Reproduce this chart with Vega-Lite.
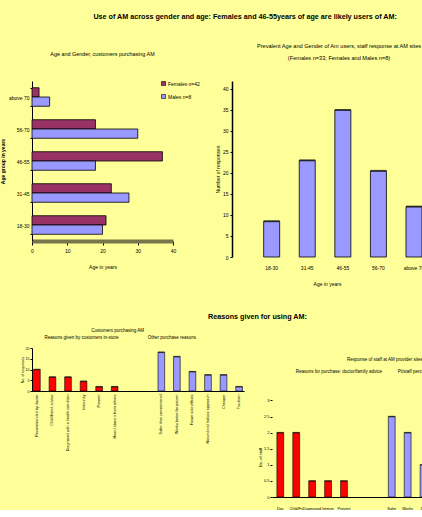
{
  "$schema": "https://vega.github.io/schema/vega-lite/v6.json",
  "background": "#FFFF99",
  "padding": {"top": 12, "left": 0, "right": 0, "bottom": 0},
  "config": {
    "font": "Liberation Sans, sans-serif",
    "view": {"stroke": null},
    "axis": {"grid": false, "labelColor": "#000", "titleColor": "#000", "tickColor": "#000", "domainColor": "#000", "labelFontSize": 5, "titleFontSize": 5, "titleFontWeight": "normal", "labelFlush": false, "labelOverlap": false},
    "title": {"color": "#000"}
  },
  "title": {"text": "Use of AM across gender and age: Females and 46-55years of age are likely users of AM:", "anchor": "start", "dx": 93, "fontSize": 7.2, "fontWeight": "bold", "offset": 24},
  "columns": 1,
  "align": "none",
  "spacing": 27,
  "resolve": {"scale": {"color": "independent"}, "legend": {"color": "independent"}},
  "concat": [
    {
      "spacing": 15,
      "resolve": {"scale": {"color": "independent"}, "legend": {"color": "independent"}},
      "hconcat": [
        {
          "width": 141,
          "height": 160,
          "title": {"text": "Age and Gender, customers purchasing AM", "fontSize": 5.4, "fontWeight": "normal", "frame": "group", "offset": 22},
          "data": {"values": [
            {"age": "above 70", "gender": "Females n=42", "customers": 2},
            {"age": "above 70", "gender": "Males n=8", "customers": 5},
            {"age": "56-70", "gender": "Females n=42", "customers": 18},
            {"age": "56-70", "gender": "Males n=8", "customers": 30},
            {"age": "46-55", "gender": "Females n=42", "customers": 37},
            {"age": "46-55", "gender": "Males n=8", "customers": 18},
            {"age": "31-45", "gender": "Females n=42", "customers": 22.5},
            {"age": "31-45", "gender": "Males n=8", "customers": 27.5},
            {"age": "18-30", "gender": "Females n=42", "customers": 21},
            {"age": "18-30", "gender": "Males n=8", "customers": 20}
          ]},
          "mark": {"type": "bar", "stroke": "#000", "strokeWidth": 0.8},
          "encoding": {
            "y": {"field": "age", "type": "nominal", "sort": ["above 70", "56-70", "46-55", "31-45", "18-30"], "scale": {"paddingInner": 0.42, "paddingOuter": 0.21}, "axis": {"title": "Age group in years", "titleFontWeight": "bold", "tickBand": "extent", "tickSize": 2, "labelPadding": 1, "titlePadding": 3}},
            "yOffset": {"field": "gender", "type": "nominal", "sort": ["Females n=42", "Males n=8"]},
            "x": {"field": "customers", "type": "quantitative", "scale": {"domain": [0, 40], "nice": false}, "axis": {"values": [0, 10, 20, 30, 40], "title": "Age in years", "domainWidth": 4, "domainColor": "#76764a", "tickSize": 4, "labelPadding": 3, "titlePadding": 11}},
            "color": {"field": "gender", "type": "nominal", "scale": {"domain": ["Females n=42", "Males n=8"], "range": ["#993366", "#9999FF"]}, "legend": {"title": null, "orient": "none", "legendX": 129, "legendY": 0, "symbolType": "square", "symbolSize": 16, "symbolStrokeColor": "#000", "symbolStrokeWidth": 0.6, "labelFontSize": 5, "rowPadding": 6, "labelOffset": 2}}
          }
        },
        {
          "width": 190,
          "height": 176,
          "title": {"text": ["Prevalent Age and Gender of Am users, staff response at AM sites", "(Females n=33, Females and Males n=8)"], "fontSize": 5.6, "fontWeight": "normal", "lineHeight": 12.5, "frame": "group", "dx": 12, "offset": 19},
          "data": {"values": [
            {"age": "18-30", "responses": 8.5},
            {"age": "31-45", "responses": 23},
            {"age": "46-55", "responses": 35},
            {"age": "56-70", "responses": 20.5},
            {"age": "above 70", "responses": 12}
          ]},
          "encoding": {
            "x": {"field": "age", "type": "nominal", "sort": ["18-30", "31-45", "46-55", "56-70", "above 70"], "scale": {"paddingInner": 0.55, "paddingOuter": 0.445, "align": 1}, "axis": {"title": "Age in years", "labelAngle": 0, "domain": false, "ticks": false, "labelPadding": 8, "titlePadding": 11}},
            "y": {"field": "responses", "type": "quantitative", "scale": {"domain": [0, 41.9], "nice": false}, "axis": {"values": [0, 5, 10, 15, 20, 25, 30, 35, 40], "title": "Number of responses", "domainWidth": 1.5, "tickSize": 2, "labelPadding": 2, "titlePadding": 2}}
          },
          "layer": [
            {"mark": {"type": "bar", "fill": "#9999FF", "stroke": "#000", "strokeWidth": 0.8}},
            {"mark": {"type": "tick", "color": "#1a1a1a", "thickness": 2, "size": 16}}
          ]
        }
      ]
    },
    {
      "title": {"text": "Reasons given for using AM:", "anchor": "start", "dx": 188, "fontSize": 7.2, "fontWeight": "bold", "offset": 8},
      "spacing": 14,
      "resolve": {"scale": {"color": "independent"}},
      "hconcat": [
        {
          "width": 212,
          "height": 43,
          "data": {"values": [
            {"reason": "Recommended by doctor", "group": "customers", "responses": 10},
            {"reason": "Child/friend advice", "group": "customers", "responses": 6.5},
            {"reason": "Diagnosed with a health condition", "group": "customers", "responses": 6.5},
            {"reason": "Immunity", "group": "customers", "responses": 4.5},
            {"reason": "Prevent", "group": "customers", "responses": 2},
            {"reason": "Heard about it from others", "group": "customers", "responses": 2},
            {"reason": "Safer than conventional", "group": "other", "responses": 18},
            {"reason": "Works better for patient", "group": "other", "responses": 16},
            {"reason": "Fewer side effects", "group": "other", "responses": 9},
            {"reason": "Natural and holistic approach", "group": "other", "responses": 7.5},
            {"reason": "Cheaper", "group": "other", "responses": 7.5},
            {"reason": "Tradition", "group": "other", "responses": 2}
          ]},
          "encoding": {
            "x": {"field": "reason", "type": "nominal", "scale": {"domain": ["Recommended by doctor", "Child/friend advice", "Diagnosed with a health condition", "Immunity", "Prevent", "Heard about it from others", " ", "  ", "Safer than conventional", "Works better for patient", "Fewer side effects", "Natural and holistic approach", "Cheaper", "Tradition"], "paddingInner": 0.57, "paddingOuter": 0.1}, "axis": {"title": null, "labelAngle": -90, "labelFontSize": 3.8, "ticks": false, "domainWidth": 1.2, "labelPadding": 3, "labelLimit": 0}},
            "y": {"field": "responses", "type": "quantitative", "scale": {"domain": [0, 20], "nice": false}, "axis": {"values": [0, 5, 10, 15, 20], "title": "No. of responses", "labelFontSize": 3.5, "titleFontSize": 3.5, "tickSize": 2, "labelPadding": 1, "titlePadding": 1}}
          },
          "layer": [
            {"mark": {"type": "bar", "stroke": "#000", "strokeWidth": 0.6}, "encoding": {"color": {"field": "group", "type": "nominal", "scale": {"domain": ["customers", "other"], "range": ["#FF0000", "#9999FF"]}, "legend": null}}},
            {"mark": {"type": "tick", "color": "#1a1a1a", "thickness": 1.5, "size": 6.7}},
            {"data": {"values": [{"reason": "Heard about it from others", "note": "Customers purchasing AM", "responses": 27.8}]}, "mark": {"type": "text", "fontSize": 4.5, "fill": "#000", "dx": 3}, "encoding": {"text": {"field": "note", "type": "nominal"}}},
            {"data": {"values": [{"reason": "Immunity", "note": "Reasons given by customers in-store", "responses": 24.7}]}, "mark": {"type": "text", "fontSize": 4.5, "fill": "#000", "dx": -2}, "encoding": {"text": {"field": "note", "type": "nominal"}}},
            {"data": {"values": [{"reason": "Works better for patient", "note": "Other purchase reasons", "responses": 24.7}]}, "mark": {"type": "text", "fontSize": 4.5, "fill": "#000", "dx": -5}, "encoding": {"text": {"field": "note", "type": "nominal"}}}
          ]
        },
        {
          "width": 155,
          "height": 149,
          "data": {"values": [
            {"reason": "Doc", "group": "purchase", "staff": 2},
            {"reason": "Chld/Fri", "group": "purchase", "staff": 2},
            {"reason": "Diagnosed", "group": "purchase", "staff": 0.5},
            {"reason": "Immun", "group": "purchase", "staff": 0.5},
            {"reason": "Prevent", "group": "purchase", "staff": 0.5},
            {"reason": "Safer", "group": "staff", "staff": 2.5},
            {"reason": "Works", "group": "staff", "staff": 2},
            {"reason": "Dis", "group": "staff", "staff": 1}
          ]},
          "encoding": {
            "x": {"field": "reason", "type": "nominal", "scale": {"domain": ["Doc", "Chld/Fri", "Diagnosed", "Immun", "Prevent", " ", "  ", "Safer", "Works", "Dis"], "paddingInner": 0.57, "paddingOuter": 0.153, "align": 1}, "axis": {"title": null, "labelAngle": 0, "labelFontSize": 3.8, "ticks": false, "domainWidth": 1.2, "labelPadding": 9}},
            "y": {"field": "staff", "type": "quantitative", "scale": {"domain": [0, 4.63], "nice": false}, "axis": {"values": [0, 0.5, 1, 1.5, 2, 2.5, 3], "format": "~g", "domain": false, "title": "No. of staff", "labelFontSize": 4, "titleFontSize": 4, "tickSize": 2, "labelPadding": 1, "titlePadding": 1, "titleY": 109}}
          },
          "layer": [
            {"mark": {"type": "bar", "stroke": "#000", "strokeWidth": 0.6}, "encoding": {"color": {"field": "group", "type": "nominal", "scale": {"domain": ["purchase", "staff"], "range": ["#FF0000", "#9999FF"]}, "legend": null}}},
            {"mark": {"type": "tick", "color": "#1a1a1a", "thickness": 1.5, "size": 6.85}},
            {"data": {"values": [{"axis": "y"}]}, "mark": {"type": "rule", "color": "#000", "strokeWidth": 1}, "encoding": {"x": {"datum": "Doc", "bandPosition": -0.712}, "y": {"datum": 0}, "y2": {"datum": 3}}},
            {"data": {"values": [{"reason": "Prevent", "note": "Response of staff at AM provider sites", "staff": 4.25}]}, "mark": {"type": "text", "fontSize": 4.5, "fill": "#000", "align": "left", "dx": 3}, "encoding": {"text": {"field": "note", "type": "nominal"}}},
            {"data": {"values": [{"reason": "Prevent", "note": "Reasons for purchase: doctor/family advice", "staff": 3.87}]}, "mark": {"type": "text", "fontSize": 4.5, "fill": "#000", "dx": -5}, "encoding": {"text": {"field": "note", "type": "nominal"}}},
            {"data": {"values": [{"reason": "Safer", "note": "Pt/staff perceived benefits", "staff": 3.87}]}, "mark": {"type": "text", "fontSize": 4.5, "fill": "#000", "align": "left", "dx": 6}, "encoding": {"text": {"field": "note", "type": "nominal"}}}
          ]
        }
      ]
    }
  ]
}
